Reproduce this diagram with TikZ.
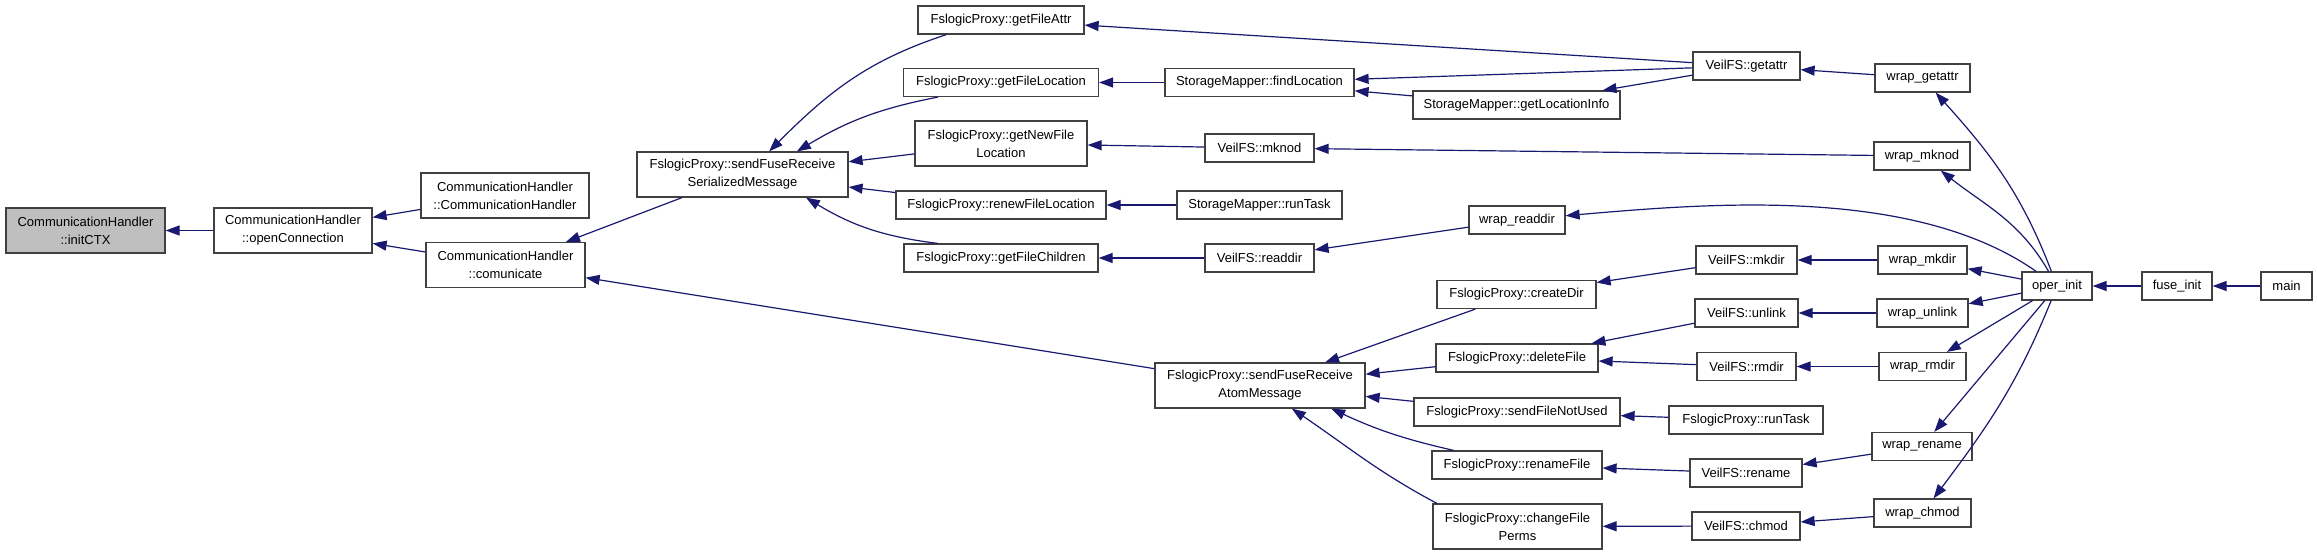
\documentclass[tikz,border=0pt]{standalone}
\usepackage{fontspec}
\setmainfont{Liberation Sans}
\usepackage{tikz}
\usetikzlibrary{arrows.meta}
\definecolor{edgeblue}{HTML}{191970}
\definecolor{boxgray}{HTML}{404040}
\definecolor{focusgray}{HTML}{BFBFBF}

\begin{document}
\begin{tikzpicture}[x=1pt,y=-1pt,
  fn/.style={draw=boxgray, line width=1.2pt, fill=white, inner sep=0pt, minimum height=28pt, align=center, font=\fontsize{13}{18}\selectfont},
  fn2/.style={fn, minimum height=45pt},
  call/.style={draw=edgeblue, line width=1.2pt, -{Triangle[length=14pt,width=10pt]}}]
\useasboundingbox (0,0) rectangle (2317,555);
\node[fn2, fill=focusgray, minimum width=159pt] (initctx) at (85.5,230.5) {CommunicationHandler\\::initCTX};
\node[fn2, minimum width=158pt] (openconn) at (293,230.5) {CommunicationHandler\\::openConnection};
\node[fn2, minimum width=168pt] (chctor) at (505,195.5) {CommunicationHandler\\::CommunicationHandler};
\node[fn2, minimum width=159pt] (comm) at (505.5,265) {CommunicationHandler\\::comunicate};
\node[fn2, minimum width=211pt] (sfrsm) at (742.5,174.5) {FslogicProxy::sendFuseReceive\\SerializedMessage};
\node[fn2, minimum width=210pt] (sfram) at (1260,385.5) {FslogicProxy::sendFuseReceive\\AtomMessage};

\node[fn, minimum width=166pt] (fattr) at (1001,20) {FslogicProxy::getFileAttr};
\node[fn, minimum width=195pt] (floc) at (1001,82.5) {FslogicProxy::getFileLocation};
\node[fn2, minimum width=172pt] (newloc) at (1001,143.5) {FslogicProxy::getNewFile\\Location};
\node[fn, minimum width=210pt] (renloc) at (1001,205) {FslogicProxy::renewFileLocation};
\node[fn, minimum width=194pt] (fchild) at (1001,258) {FslogicProxy::getFileChildren};

\node[fn, minimum width=189pt] (findloc) at (1259.5,82.5) {StorageMapper::findLocation};
\node[fn, minimum width=109pt] (mknod) at (1259.5,148) {VeilFS::mknod};
\node[fn, minimum width=165pt] (smtask) at (1259.5,205) {StorageMapper::runTask};
\node[fn, minimum width=109pt] (readdir) at (1259.5,258) {VeilFS::readdir};

\node[fn, minimum width=207pt] (locinfo) at (1516.5,105) {StorageMapper::getLocationInfo};
\node[fn, minimum width=96pt] (wreaddir) at (1517,220) {wrap\_readdir};
\node[fn, minimum width=159pt] (mkdirfp) at (1516.5,294.5) {FslogicProxy::createDir};
\node[fn, minimum width=162pt] (delfile) at (1517,358) {FslogicProxy::deleteFile};
\node[fn, minimum width=206pt] (notused) at (1517,412) {FslogicProxy::sendFileNotUsed};
\node[fn, minimum width=170pt] (renfile) at (1517,465) {FslogicProxy::renameFile};
\node[fn2, minimum width=169pt] (chperms) at (1517.5,526.5) {FslogicProxy::changeFile\\Perms};

\node[fn, minimum width=107pt] (getattr) at (1746.5,66) {VeilFS::getattr};
\node[fn, minimum width=101pt] (mkdir) at (1746.5,260) {VeilFS::mkdir};
\node[fn, minimum width=103pt] (unlink) at (1746.5,313) {VeilFS::unlink};
\node[fn, minimum width=99pt] (rmdir) at (1746.5,366.5) {VeilFS::rmdir};
\node[fn, minimum width=154pt] (fptask) at (1746,420) {FslogicProxy::runTask};
\node[fn, minimum width=112pt] (rename) at (1746,473) {VeilFS::rename};
\node[fn, minimum width=108pt] (chmod) at (1746,526) {VeilFS::chmod};

\node[fn, minimum width=95pt] (wgetattr) at (1922.5,78) {wrap\_getattr};
\node[fn, minimum width=96pt] (wmknod) at (1922,156) {wrap\_mknod};
\node[fn, minimum width=89pt] (wmkdir) at (1922.5,260) {wrap\_mkdir};
\node[fn, minimum width=91pt] (wunlink) at (1922.5,313) {wrap\_unlink};
\node[fn, minimum width=87pt] (wrmdir) at (1922.5,366.5) {wrap\_rmdir};
\node[fn, minimum width=100pt] (wrename) at (1922,446.5) {wrap\_rename};
\node[fn, minimum width=97pt] (wchmod) at (1922.5,513) {wrap\_chmod};

\node[fn, minimum width=70pt] (operinit) at (2057,286) {oper\_init};
\node[fn, minimum width=70pt] (fuseinit) at (2177,286) {fuse\_init};
\node[fn, minimum width=51pt] (main) at (2286.5,286) {main};

\draw[call] (openconn) -- (initctx);
\draw[call] (chctor) -- (openconn);
\draw[call] (comm) -- (openconn);
\draw[call] (sfrsm) -- (comm);
\draw[call] (sfram) -- (comm);
\draw[call] (fattr.195) to[out=198,in=45] (sfrsm.41);
\draw[call] (floc.193) to[bend right=10] (sfrsm.23);
\draw[call] (newloc) -- (sfrsm);
\draw[call] (renloc) -- (sfrsm);
\draw[call] (fchild.167) to[bend left=12] (sfrsm.340);
\draw[call] (getattr) -- (fattr);
\draw[call] (findloc) -- (floc);
\draw[call] (getattr) -- (findloc);
\draw[call] (locinfo) -- (findloc);
\draw[call] (getattr) -- (locinfo);
\draw[call] (mknod) -- (newloc);
\draw[call] (wmknod) -- (mknod);
\draw[call] (smtask) -- (renloc);
\draw[call] (readdir) -- (fchild);
\draw[call] (wreaddir) -- (readdir);
\draw[call] (wgetattr) -- (getattr);
\draw[call] (mkdir) -- (mkdirfp);
\draw[call] (wmkdir) -- (mkdir);
\draw[call] (unlink) -- (delfile);
\draw[call] (wunlink) -- (unlink);
\draw[call] (rmdir) -- (delfile);
\draw[call] (wrmdir) -- (rmdir);
\draw[call] (fptask) -- (notused);
\draw[call] (rename) -- (renfile);
\draw[call] (wrename) -- (rename);
\draw[call] (chmod) -- (chperms);
\draw[call] (wchmod) -- (chmod);
\draw[call] (mkdirfp) -- (sfram);
\draw[call] (delfile) -- (sfram);
\draw[call] (notused) -- (sfram);
\draw[call] (renfile.167) to[bend left=6] (sfram.342);
\draw[call] (chperms.164) to[out=152,in=-34] (sfram.324);
\draw[call] (operinit) to[out=111,in=-48] (wgetattr);
\draw[call] (operinit) to[out=120,in=-38] (wmknod);
\draw[call, looseness=0.8] (operinit) to[out=145,in=5] (wreaddir);
\draw[call] (operinit) -- (wmkdir);
\draw[call] (operinit) -- (wunlink);
\draw[call] (operinit) -- (wrmdir);
\draw[call] (operinit) -- (wrename);
\draw[call] (operinit) to[out=248,in=53] (wchmod);
\draw[call] (fuseinit) -- (operinit);
\draw[call] (main) -- (fuseinit);
\end{tikzpicture}
\end{document}
